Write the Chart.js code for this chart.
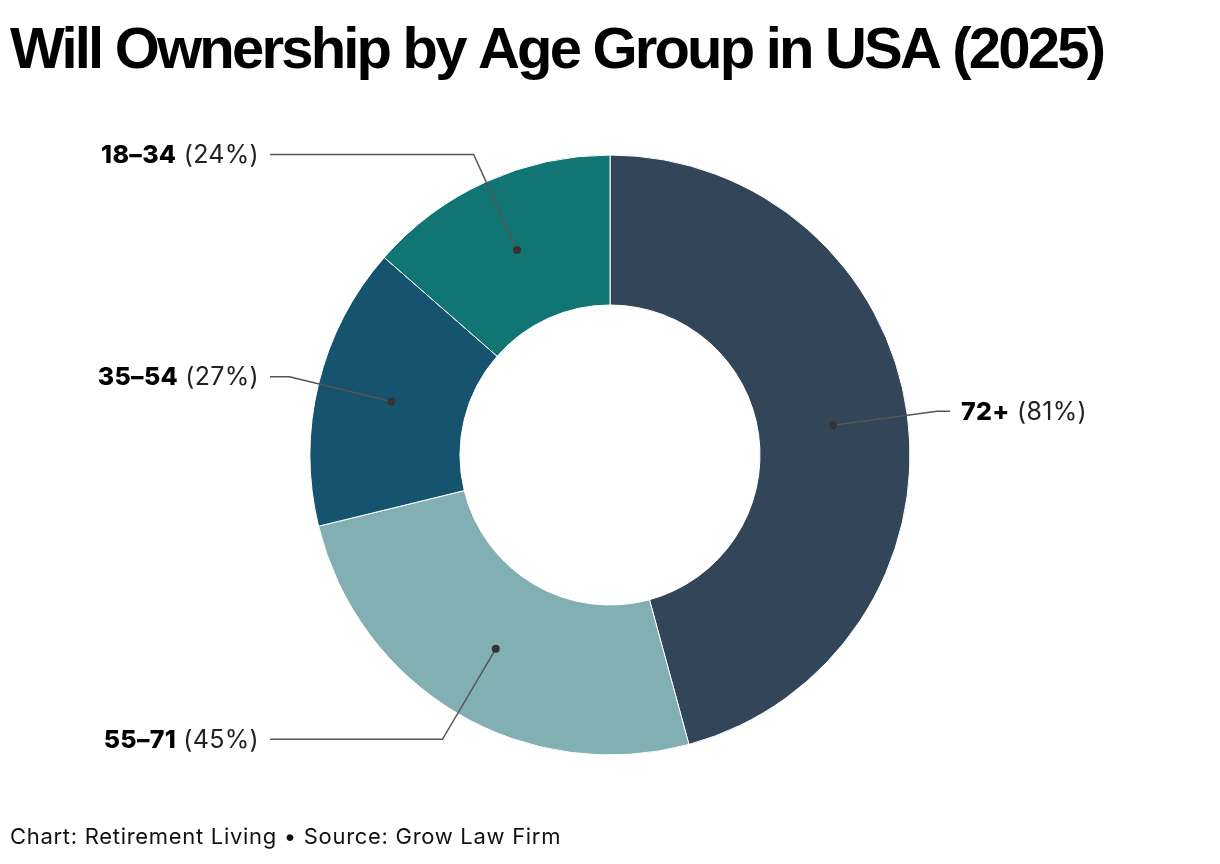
<!DOCTYPE html>
<html lang="en">
<head>
    <meta charset="UTF-8">
    <title>Will Ownership by Age Group in USA (2025)</title>
    <script src="https://cdn.jsdelivr.net/npm/chart.js@4.4.0/dist/chart.umd.min.js"></script>
    <style>
        html, body { margin: 0; padding: 0; background: #fff; }
        #wrap { width: 1220px; height: 864px; position: relative; }
    </style>
</head>
<body>
    <div id="wrap"><canvas id="chart"></canvas></div>
    <script>
        // Data
        const ageGroups = ['72+', '55–71', '35–54', '18–34'];
        const willShare = [81, 45, 27, 24];
        const sliceColors = ['#334559', '#82afb1', '#16536e', '#107573'];

        const titleText = 'Will Ownership by Age Group in USA (2025)';
        const footerText = 'Chart: Retirement Living \u2022 Source: Grow Law Firm';

        // Title, footer and leader-line labels
        const annotate = {
            id: 'annotate',
            afterDraw(chart) {
                const ctx = chart.ctx;
                ctx.save();

                ctx.fillStyle = '#000';
                ctx.textBaseline = 'alphabetic';
                ctx.textAlign = 'left';
                ctx.font = 'bold 58px "Liberation Sans", Arial, sans-serif';
                ctx.letterSpacing = '-2.8px';
                ctx.fillText(titleText, 10, 68);

                ctx.font = '22px Inter, sans-serif';
                ctx.letterSpacing = '0.7px';
                ctx.fillStyle = '#111';
                ctx.fillText(footerText, 10, 844);
                ctx.letterSpacing = '0.3px';

                const meta = chart.getDatasetMeta(0);
                meta.data.forEach((arc, i) => {
                    const mid = (arc.startAngle + arc.endAngle) / 2;
                    const cx = arc.x, cy = arc.y;
                    const rDot = (arc.innerRadius + arc.outerRadius) / 2;
                    const rElbow = arc.outerRadius + 30;
                    const dx = Math.cos(mid), dy = Math.sin(mid);
                    const px = cx + dx * rDot, py = cy + dy * rDot;
                    const ex = cx + dx * rElbow, ey = cy + dy * rElbow;
                    const right = dx >= 0;
                    const hx = right ? cx + 340 : cx - 340;

                    ctx.strokeStyle = '#555';
                    ctx.lineWidth = 1.5;
                    ctx.beginPath();
                    ctx.moveTo(px, py);
                    ctx.lineTo(ex, ey);
                    ctx.lineTo(hx, ey);
                    ctx.stroke();

                    ctx.fillStyle = '#333';
                    ctx.beginPath();
                    ctx.arc(px, py, 4, 0, Math.PI * 2);
                    ctx.fill();

                    const bold = ageGroups[i];
                    const rest = ' (' + willShare[i] + '%)';
                    const fb = '800 25px Inter, sans-serif';
                    const fr = '25px Inter, sans-serif';
                    ctx.textBaseline = 'middle';
                    ctx.font = fb;
                    const wb = ctx.measureText(bold).width;
                    ctx.font = fr;
                    const wr = ctx.measureText(rest).width;
                    const tx = right ? hx + 11 : hx - 11 - wb - wr;
                    ctx.fillStyle = '#000';
                    ctx.textAlign = 'left';
                    ctx.font = fb;
                    ctx.fillText(bold, tx, ey + 1);
                    ctx.font = fr;
                    ctx.fillStyle = '#222';
                    ctx.fillText(rest, tx + wb, ey + 1);
                });
                ctx.restore();
            }
        };

        new Chart(document.getElementById('chart'), {
            type: 'doughnut',
            data: {
                labels: ageGroups,
                datasets: [{
                    data: willShare,
                    backgroundColor: sliceColors,
                    borderColor: '#ffffff',
                    borderWidth: 1
                }]
            },
            options: {
                responsive: true,
                maintainAspectRatio: false,
                animation: false,
                radius: 300,
                cutout: '50%',
                layout: { padding: { top: 100, bottom: 54 } },
                plugins: {
                    legend: { display: false },
                    tooltip: { enabled: false },
                    title: { display: false }
                }
            },
            plugins: [annotate]
        });
    </script>
</body>
</html>
